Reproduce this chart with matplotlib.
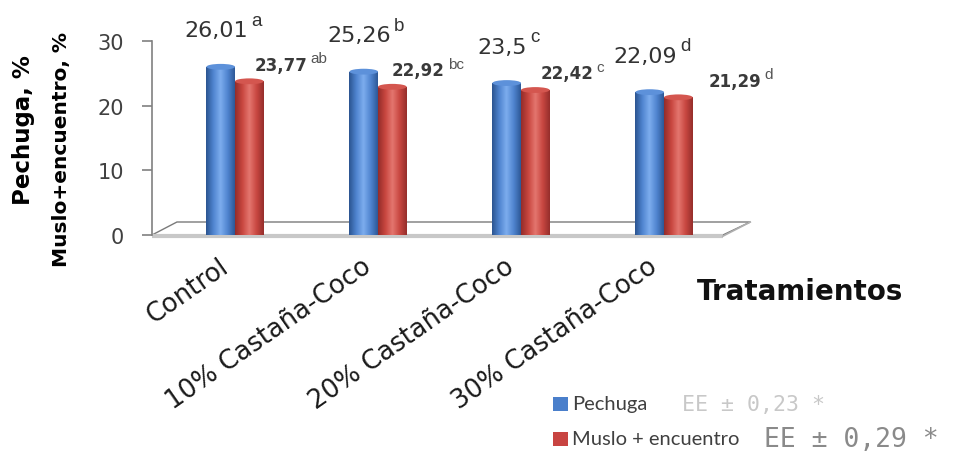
import numpy as np
import matplotlib
matplotlib.use("Agg")
import matplotlib.pyplot as plt
from matplotlib.colors import LinearSegmentedColormap
from matplotlib.patches import Rectangle, Ellipse, Polygon

# ---- data ----
categories = ["Control", "10% Castaña-Coco", "20% Castaña-Coco", "30% Castaña-Coco"]
pechuga = [26.01, 25.26, 23.50, 22.09]
muslo = [23.77, 22.92, 22.42, 21.29]
pechuga_text = ["26,01", "25,26", "23,5", "22,09"]
muslo_text = ["23,77", "22,92", "22,42", "21,29"]
pechuga_letters = ["a", "b", "c", "d"]
muslo_letters = ["ab", "bc", "c", "d"]
series_names = ["Pechuga", "Muslo + encuentro"]
ee_notes = ["EE ± 0,23 *", "EE ± 0,29 *"]
yticks = [0, 10, 20, 30]

W, H = 954, 452
fig = plt.figure(figsize=(W / 100, H / 100), dpi=100)


def fx(px):
    return px / W


def fy(py):
    return 1 - py / H


ax = fig.add_axes([fx(152), fy(236), (760 - 152) / W, (236 - 42) / H])
ax.set_facecolor("none")

x = np.arange(len(categories))
bw = 0.2

blue_cmap = LinearSegmentedColormap.from_list(
    "blue_cyl", ["#2b5490", "#4f84cf", "#7dadee", "#5085d0", "#2d5896"])
red_cmap = LinearSegmentedColormap.from_list(
    "red_cyl", ["#932c2a", "#c8463f", "#e4766f", "#c84741", "#952e2b"])
grad = np.linspace(0, 1, 128).reshape(1, -1)

# floor of the pseudo-3D plot area (axes fraction coordinates)
floor = Polygon([(0, 0), (0.041, 0.067), (0.984, 0.067), (0.939, 0)],
                closed=True, transform=ax.transAxes, facecolor="white",
                edgecolor="#7a7a7a", lw=1.0, zorder=1, clip_on=False)
ax.add_patch(floor)
ax.plot([0, 0.939], [-0.006, -0.006], transform=ax.transAxes, color="#c8c8c8",
        lw=3.0, solid_capstyle="butt", zorder=1.5, clip_on=False)
ax.plot([0.939, 0.984], [-0.006, 0.067], transform=ax.transAxes, color="#b0b0b0",
        lw=1.2, zorder=1.5, clip_on=False)

series = [
    (x - bw / 2, pechuga, blue_cmap, "#5d91da"),
    (x + bw / 2, muslo, red_cmap, "#d4564f"),
]
bar_groups = []
for xs, vals, cmap, capcol in series:
    bars = ax.bar(xs, vals, bw, color="none", edgecolor="none", zorder=3)
    bar_groups.append(bars)
    for b in bars:
        x0, w, h = b.get_x(), b.get_width(), b.get_height()
        im = ax.imshow(grad, cmap=cmap, extent=[x0, x0 + w, 0, h],
                       aspect="auto", zorder=3, interpolation="bilinear")
        im.set_clip_path(b)
        ax.add_patch(Ellipse((x0 + w / 2, h), w, 0.9, facecolor=capcol,
                             edgecolor="none", zorder=4, clip_on=False))

ax.set_xlim(-0.5804, 3.671)
ax.set_ylim(0, 30)

# axes styling
for s in ["top", "right", "bottom"]:
    ax.spines[s].set_visible(False)
ax.spines["left"].set_color("#808080")
ax.spines["left"].set_linewidth(1.2)
ax.set_yticks(yticks)
ax.set_yticklabels([str(v) for v in yticks], fontsize=15, color="#404040",
                   family="DejaVu Sans")
ax.tick_params(axis="y", direction="out", length=7, width=1.2, color="#808080", pad=13)

# category labels, slanted
ax.set_xticks(x)
ax.set_xticklabels([])
ax.tick_params(axis="x", length=0)
for xi, cat in zip(x, categories):
    ax.annotate(cat, (xi, 0), xycoords=("data", "axes fraction"),
                xytext=(-12, -13), textcoords="offset points",
                rotation=35, rotation_mode="anchor", ha="right", va="top",
                fontsize=18.5, color="#1a1a1a", family="DejaVu Sans",
                annotation_clip=False)

# value labels with significance letters
for b, txt, let in zip(bar_groups[0], pechuga_text, pechuga_letters):
    cx = b.get_x() + b.get_width() / 2
    t = ax.annotate(txt, (cx, b.get_height()), xytext=(-3, 19),
                    textcoords="offset points", ha="center", va="bottom",
                    fontsize=16, color="#333333", family="DejaVu Sans",
                    annotation_clip=False)
    ax.annotate(let, xy=(1, 1), xycoords=t, xytext=(2, 0),
                textcoords="offset points", ha="left", va="center",
                fontsize=13.5, color="#333333", family="Liberation Sans")

red_dx = [14, 10, 14, 32]
for b, txt, let, dx in zip(bar_groups[1], muslo_text, muslo_letters, red_dx):
    t = ax.annotate(txt, (b.get_x(), b.get_height()), xytext=(dx, 12),
                    textcoords="offset points", ha="left", va="center",
                    fontsize=12, fontweight="bold", color="#3a3a3a",
                    family="DejaVu Sans", annotation_clip=False)
    ax.annotate(let, xy=(1, 0.85), xycoords=t, xytext=(2, 0),
                textcoords="offset points", ha="left", va="center",
                fontsize=11, color="#555555", family="Liberation Sans")

# axis titles
fig.text(fx(24), fy(130), "Pechuga, %", rotation=90, ha="center", va="center",
         fontsize=16.5, fontweight="bold", color="black", family="DejaVu Sans")
fig.text(fx(62), fy(150), "Muslo+encuentro, %", rotation=90, ha="center",
         va="center", fontsize=14.5, fontweight="bold", color="black",
         family="DejaVu Sans")
fig.text(fx(800), fy(292), "Tratamientos", ha="center", va="center",
         fontsize=20, fontweight="bold", color="#111111", family="DejaVu Sans")

# legend
legend_rows = [
    (405, "#4a7fcb", series_names[0], ee_notes[0], 682, "#c8c8c8", 15.5),
    (440, "#c84441", series_names[1], ee_notes[1], 764, "#8a8a8a", 19),
]
for yc, col, name, note, note_x, note_col, note_size in legend_rows:
    fig.add_artist(Rectangle((fx(553), fy(yc + 7)), 15 / W, 14 / H,
                             transform=fig.transFigure, facecolor=col,
                             edgecolor="none"))
    fig.text(fx(572), fy(yc), name, ha="left", va="center", fontsize=14.5,
             color="#404040", family="Lato")
    fig.text(fx(note_x), fy(yc), note, ha="left", va="center",
             fontsize=note_size, color=note_col, family="DejaVu Sans Mono")

fig.savefig("out.png", dpi=100, facecolor="white")
